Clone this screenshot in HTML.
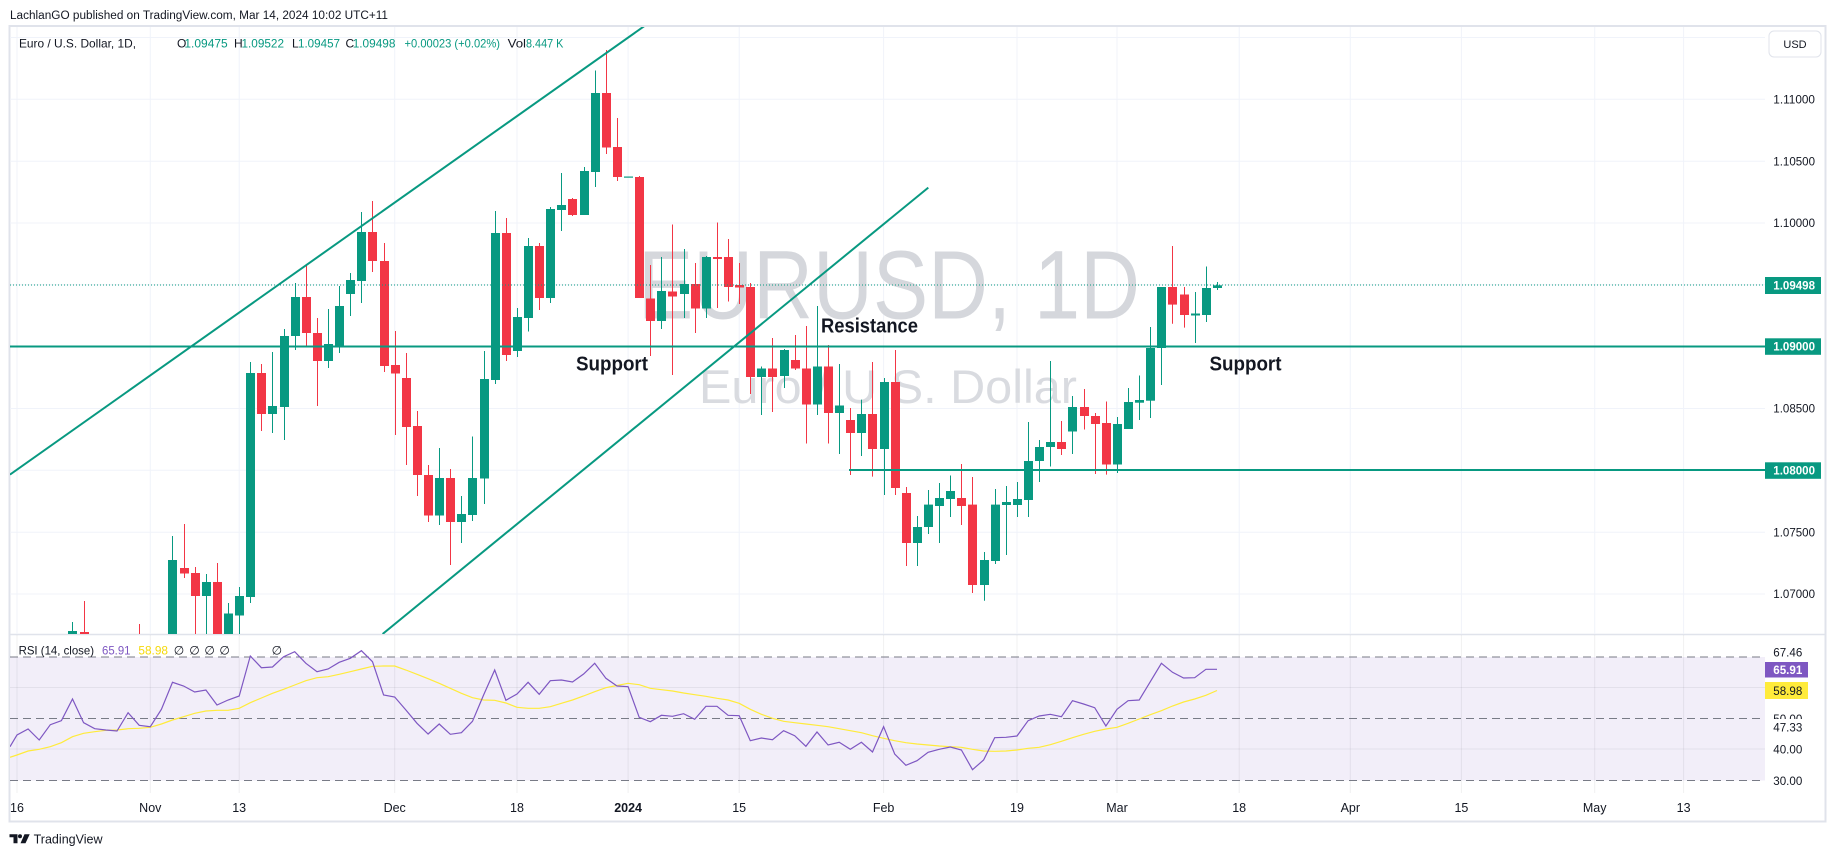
<!DOCTYPE html>
<html><head><meta charset="utf-8"><style>
html,body{margin:0;padding:0;background:#fff;}
svg{display:block;font-family:"Liberation Sans",sans-serif;}
</style></head><body>
<svg width="1835" height="857" viewBox="0 0 1835 857" xmlns="http://www.w3.org/2000/svg">
<defs>
<clipPath id="mp"><rect x="10" y="27" width="1755" height="607"/></clipPath>
<clipPath id="rp"><rect x="10" y="635" width="1755" height="158"/></clipPath>
</defs>
<rect width="1835" height="857" fill="#fff"/>
<!-- header -->
<text x="10" y="19" font-size="11.5" fill="#131722" textLength="378" lengthAdjust="spacingAndGlyphs">LachlanGO published on TradingView.com, Mar 14, 2024 10:02 UTC+11</text>

<!-- frame -->
<rect x="9.5" y="26" width="1816" height="795.5" fill="none" stroke="#e0e3eb" stroke-width="2"/>
<line x1="10" y1="634.5" x2="1825" y2="634.5" stroke="#e0e3eb" stroke-width="1.5"/>

<!-- main pane -->
<g clip-path="url(#mp)">
<g stroke="#f0f3fa" stroke-width="1">
<path d="M10 37.5H1765M10 99.3H1765M10 161.2H1765M10 223H1765M10 284.8H1765M10 346.7H1765M10 408.5H1765M10 470.3H1765M10 532.2H1765M10 594H1765"/>
<path d="M17 27V634M150.3 27V634M239.2 27V634M394.7 27V634M517 27V634M628.1 27V634M739.2 27V634M883.6 27V634M1017 27V634M1117 27V634M1239.2 27V634M1350.3 27V634M1461.4 27V634M1594.7 27V634M1683.6 27V634"/>
</g>
<text x="638" y="318.7" font-size="97" fill="#d5d7dc" textLength="502" lengthAdjust="spacingAndGlyphs">EURUSD, 1D</text>
<text x="699" y="403" font-size="47" fill="#d9dbe0" textLength="378" lengthAdjust="spacingAndGlyphs">Euro / U.S. Dollar</text>

<!-- green candles -->
<path fill="none" stroke="#089981" stroke-width="1" d="M72.5 622V640M172.5 536V720M206.5 574V650M228.5 603V650M239.5 587V640M250.5 362V603M272.5 352V433M284.5 329V440M295.5 283V350M328.5 309V368M339.5 286V353M350.5 273V316M361.5 212V303M439.5 448V525M461.5 496V543M472.5 436.5V521M484.5 351V504M495.5 211V384M517.5 308V357M528.5 238V331.5M550.5 207V303M561.5 173V231M584.5 167V215M595.5 70.5V187M661.5 257V329M684.5 249V318M706.5 256V318M761.5 366.5V415M784.5 349V388M817.5 306V415M839.5 364V454M861.5 399.6V456M884.5 378V495M917.5 516V566M928.5 490V534M939.5 483V543M950.5 475.5V517M984.5 552V600.7M995.5 489V564M1006.5 486V555M1017.5 482V517M1028.5 422V517M1039.5 440V482M1050.5 361V466.5M1072.5 396V454M1117.5 417V473M1128.5 388V429M1139.5 375.5V420M1150.5 327V418M1161.5 287V385M1195.5 292V343M1206.5 266.5V322M1217.5 282V290"/>
<g fill="#089981">
<rect x="68" y="631" width="9" height="3"/>
<rect x="168" y="560" width="9" height="140"/>
<rect x="202" y="582" width="9" height="14"/>
<rect x="224" y="613.5" width="9" height="26.5"/>
<rect x="235" y="596" width="9" height="19.5"/>
<rect x="246" y="373" width="9" height="224"/>
<rect x="268" y="406" width="9" height="8"/>
<rect x="280" y="336" width="9" height="71"/>
<rect x="291" y="297" width="9" height="39"/>
<rect x="324" y="344" width="9" height="17"/>
<rect x="335" y="306" width="9" height="40"/>
<rect x="346" y="280" width="9" height="14"/>
<rect x="357" y="232" width="9" height="49"/>
<rect x="435" y="478" width="9" height="37.5"/>
<rect x="457" y="514" width="9" height="8"/>
<rect x="468" y="478" width="9" height="37"/>
<rect x="480" y="379" width="9" height="99.5"/>
<rect x="491" y="233" width="9" height="147"/>
<rect x="513" y="317" width="9" height="34"/>
<rect x="524" y="246" width="9" height="72"/>
<rect x="546" y="209" width="9" height="89"/>
<rect x="557" y="205" width="9" height="5"/>
<rect x="580" y="171" width="9" height="44"/>
<rect x="591" y="93" width="9" height="79"/>
<rect x="624" y="176.5" width="9" height="1.2"/>
<rect x="657" y="291" width="9" height="30"/>
<rect x="680" y="284" width="9" height="10"/>
<rect x="702" y="257" width="9" height="51.5"/>
<rect x="757" y="368.5" width="9" height="8.5"/>
<rect x="780" y="350" width="9" height="26"/>
<rect x="813" y="366.5" width="9" height="38"/>
<rect x="835" y="405.5" width="9" height="7.5"/>
<rect x="857" y="414" width="9" height="19"/>
<rect x="880" y="382" width="9" height="67"/>
<rect x="913" y="527" width="9" height="16"/>
<rect x="924" y="504.6" width="9" height="22.4"/>
<rect x="935" y="498" width="9" height="8"/>
<rect x="946" y="491" width="9" height="8"/>
<rect x="980" y="560" width="9" height="25"/>
<rect x="991" y="504.6" width="9" height="56.4"/>
<rect x="1002" y="502" width="9" height="3"/>
<rect x="1013" y="499" width="9" height="6"/>
<rect x="1024" y="461" width="9" height="39"/>
<rect x="1035" y="447" width="9" height="14"/>
<rect x="1046" y="442" width="9" height="5"/>
<rect x="1068" y="407" width="9" height="24.5"/>
<rect x="1113" y="424" width="9" height="40.5"/>
<rect x="1124" y="402" width="9" height="27"/>
<rect x="1135" y="400" width="9" height="2.7"/>
<rect x="1146" y="348" width="9" height="52.7"/>
<rect x="1157" y="287" width="9" height="61"/>
<rect x="1191" y="313.5" width="9" height="2"/>
<rect x="1202" y="288" width="9" height="27"/>
<rect x="1213" y="285.3" width="9" height="2.7"/>
</g>
<!-- red candles -->
<path fill="none" stroke="#f23645" stroke-width="1" d="M84.5 601V650M139.5 624V660M184.5 524V578M195.5 567V650M217.5 563V670M261.5 364V431M306.5 265V347M317.5 318V406M372.5 201V272M384.5 243V372M395.5 331V435M406.5 353V465M417.5 411V496M428.5 465V522M450.5 469V565M506.5 218V361M539.5 243V310M572.5 198V216M606.5 50V154M617.5 118V181M639.5 176V298M650.5 265V356M672.5 224.5V375M695.5 263V333M717.5 222.5V308M728.5 239V301.5M739.5 263V304M750.5 283V394M772.5 338V412M795.5 335V370M806.5 326V443.5M828.5 345V443.5M850.5 408V475M872.5 362V476.6M895.5 350V495M906.5 487V566M961.5 464V525M972.5 477V593M1061.5 421V455M1084.5 389V429.5M1095.5 413V474M1106.5 401.5V474.6M1172.5 246V323.7M1184.5 287V327.6"/>
<g fill="#f23645">
<rect x="80" y="632" width="9" height="13"/>
<rect x="180" y="568" width="9" height="5.5"/>
<rect x="191" y="573" width="9" height="23"/>
<rect x="213" y="582" width="9" height="78"/>
<rect x="257" y="373" width="9" height="41"/>
<rect x="302" y="297" width="9" height="36"/>
<rect x="313" y="333" width="9" height="28"/>
<rect x="368" y="232" width="9" height="29"/>
<rect x="380" y="261" width="9" height="105"/>
<rect x="391" y="365" width="9" height="8.5"/>
<rect x="402" y="378" width="9" height="49"/>
<rect x="413" y="426" width="9" height="49"/>
<rect x="424" y="475" width="9" height="40.5"/>
<rect x="446" y="478" width="9" height="44"/>
<rect x="502" y="233" width="9" height="122"/>
<rect x="535" y="246" width="9" height="52"/>
<rect x="568" y="199" width="9" height="16"/>
<rect x="602" y="93" width="9" height="54.5"/>
<rect x="613" y="147" width="9" height="30"/>
<rect x="635" y="177" width="9" height="121"/>
<rect x="646" y="298.5" width="9" height="22.5"/>
<rect x="668" y="291.5" width="9" height="5"/>
<rect x="691" y="284" width="9" height="24.5"/>
<rect x="713" y="257" width="9" height="2"/>
<rect x="724" y="257" width="9" height="30"/>
<rect x="735" y="285" width="9" height="2.5"/>
<rect x="746" y="287" width="9" height="90"/>
<rect x="768" y="368.5" width="9" height="8.5"/>
<rect x="791" y="360" width="9" height="8.5"/>
<rect x="802" y="368.5" width="9" height="36"/>
<rect x="824" y="366.5" width="9" height="46.5"/>
<rect x="846" y="420" width="9" height="13"/>
<rect x="868" y="414" width="9" height="35"/>
<rect x="891" y="382" width="9" height="106"/>
<rect x="902" y="493" width="9" height="50"/>
<rect x="957" y="498" width="9" height="8"/>
<rect x="968" y="504.6" width="9" height="80.4"/>
<rect x="1057" y="442" width="9" height="7"/>
<rect x="1080" y="407" width="9" height="9"/>
<rect x="1091" y="416" width="9" height="8"/>
<rect x="1102" y="423" width="9" height="41.5"/>
<rect x="1168" y="287" width="9" height="17.6"/>
<rect x="1180" y="294.5" width="9" height="20.5"/>
</g>

<!-- drawings -->
<line x1="10" y1="285" x2="1765" y2="285" stroke="#089981" stroke-width="1" stroke-dasharray="1 2"/>
<g stroke="#089981" stroke-width="2" fill="none">
<line x1="10" y1="474.6" x2="660" y2="15"/>
<line x1="382.6" y1="634" x2="928.3" y2="187.6"/>
<line x1="10" y1="346.5" x2="1765" y2="346.5"/>
<line x1="849" y1="470" x2="1765" y2="470"/>
</g>
<g font-weight="bold" font-size="20" fill="#131722">
<text x="576" y="370.4" textLength="72" lengthAdjust="spacingAndGlyphs">Support</text>
<text x="821" y="332.7" textLength="97" lengthAdjust="spacingAndGlyphs">Resistance</text>
<text x="1209.5" y="370.4" textLength="72" lengthAdjust="spacingAndGlyphs">Support</text>
</g>
</g>

<!-- legend -->
<g font-size="12">
<text x="19" y="47.5" fill="#131722" textLength="117" lengthAdjust="spacingAndGlyphs">Euro / U.S. Dollar, 1D,</text>
<text x="177" y="47.5" fill="#131722">O</text>
<text x="184.4" y="47.5" fill="#089981" textLength="43.3" lengthAdjust="spacingAndGlyphs">1.09475</text>
<text x="234" y="47.5" fill="#131722">H</text>
<text x="241.5" y="47.5" fill="#089981" textLength="42.5" lengthAdjust="spacingAndGlyphs">1.09522</text>
<text x="292" y="47.5" fill="#131722">L</text>
<text x="298" y="47.5" fill="#089981" textLength="42" lengthAdjust="spacingAndGlyphs">1.09457</text>
<text x="345.5" y="47.5" fill="#131722">C</text>
<text x="352.7" y="47.5" fill="#089981" textLength="42.8" lengthAdjust="spacingAndGlyphs">1.09498</text>
<text x="404.5" y="47.5" fill="#089981" textLength="95.5" lengthAdjust="spacingAndGlyphs">+0.00023 (+0.02%)</text>
<text x="507.6" y="47.5" fill="#131722" textLength="18.4" lengthAdjust="spacingAndGlyphs">Vol</text>
<text x="526" y="47.5" fill="#089981" textLength="37.4" lengthAdjust="spacingAndGlyphs">8.447 K</text>
</g>

<!-- price axis -->
<rect x="1769" y="31" width="52" height="26" rx="5" fill="#fff" stroke="#e0e3eb" stroke-width="1"/>
<text x="1795" y="48" font-size="11" fill="#131722" text-anchor="middle">USD</text>
<g font-size="12" fill="#131722">
<text x="1773.3" y="103.5" textLength="41.7" lengthAdjust="spacingAndGlyphs">1.11000</text>
<text x="1773.3" y="165.4" textLength="41.7" lengthAdjust="spacingAndGlyphs">1.10500</text>
<text x="1773.3" y="227.2" textLength="41.7" lengthAdjust="spacingAndGlyphs">1.10000</text>
<text x="1773.3" y="412.7" textLength="41.7" lengthAdjust="spacingAndGlyphs">1.08500</text>
<text x="1773.3" y="536.4" textLength="41.7" lengthAdjust="spacingAndGlyphs">1.07500</text>
<text x="1773.3" y="598.2" textLength="41.7" lengthAdjust="spacingAndGlyphs">1.07000</text>
</g>
<rect x="1765" y="277" width="56" height="17" fill="#089981"/>
<rect x="1765" y="338.3" width="56" height="16.5" fill="#089981"/>
<rect x="1765" y="462.3" width="56" height="16.5" fill="#089981"/>
<g font-size="12" font-weight="bold" fill="#fff">
<text x="1773.3" y="289.7" textLength="41.7" lengthAdjust="spacingAndGlyphs">1.09498</text>
<text x="1773.3" y="350.7" textLength="41.7" lengthAdjust="spacingAndGlyphs">1.09000</text>
<text x="1773.3" y="474.7" textLength="41.7" lengthAdjust="spacingAndGlyphs">1.08000</text>
</g>

<!-- RSI pane -->
<g clip-path="url(#rp)">
<rect x="10" y="657" width="1755" height="123.5" fill="#f2eef9"/>
<path d="M17 635V793M150.3 635V793M239.2 635V793M394.7 635V793M517 635V793M628.1 635V793M739.2 635V793M883.6 635V793M1017 635V793M1117 635V793M1239.2 635V793M1350.3 635V793M1461.4 635V793M1594.7 635V793M1683.6 635V793" stroke="rgba(42,46,57,0.07)" stroke-width="1"/>
<path d="M10 687.5H1765M10 749H1765" stroke="rgba(42,46,57,0.07)" stroke-width="1"/>
<g stroke="#787b86" stroke-width="1" stroke-dasharray="8 5">
<line x1="10" y1="657" x2="1765" y2="657"/>
<line x1="10" y1="718.5" x2="1765" y2="718.5"/>
<line x1="10" y1="780.5" x2="1765" y2="780.5"/>
</g>
<polyline fill="none" stroke="#ffeb3b" stroke-width="1.2" points="10,757.3 17,755 28.1,751 39.2,749.3 50.3,746.7 61.4,742.7 72.5,736.7 83.6,733.3 94.7,731.7 105.9,730.3 117,730 128.1,728.7 139.2,728.3 150.3,727.3 161.4,724 172.5,720 183.6,716.7 194.7,713.3 205.9,711 217,710.3 228.1,710.3 239.2,708.3 250.3,702.7 261.4,698 272.5,693.3 283.6,689.3 294.7,685 305.9,680.7 317,677.7 328.1,676.7 339.2,674.3 350.3,671.7 361.4,669 372.5,666.3 383.6,666 394.7,666 405.9,670 417,674.3 428.1,678.7 439.2,683.3 450.3,688.3 461.4,693.3 472.5,697.7 483.6,700 494.7,700.3 505.9,703 517,707.3 528.1,708.3 539.2,708.3 550.3,706.7 561.4,703.3 572.5,700 583.6,696 594.7,691.7 605.9,687.7 617,685.5 628.1,683.3 639.2,684.7 650.3,688.3 661.4,689.7 672.5,691 683.6,693 694.7,694.7 705.9,696.3 717,698.3 728.1,700 739.2,703.3 750.3,709.3 761.4,714.3 772.5,718.3 783.6,721.3 794.7,722.7 805.9,724 817,725.3 828.1,726.7 839.2,728.7 850.3,730.7 861.4,732.7 872.5,735.7 883.6,738.3 894.7,740.7 905.9,742.7 917,744 928.1,745 939.2,746 950.3,746.7 961.4,747.3 972.5,749.3 983.6,751 994.7,751.3 1005.9,751 1017,750 1028.1,748.3 1039.2,747.3 1050.3,744.7 1061.4,741.3 1072.5,737.7 1083.6,734.3 1094.7,731.3 1105.9,729 1117,727.3 1128.1,723.3 1139.2,719 1150.3,714.7 1161.4,710.7 1172.5,706 1183.6,702 1194.7,699 1205.9,695.3 1217,690.5"/>
<polyline fill="none" stroke="#7e57c2" stroke-width="1.2" points="10,746.7 17,735 28.1,729 39.2,740 50.3,724.7 61.4,720.7 72.5,699 83.6,722.7 94.7,728.7 105.9,730 117,731 128.1,712.7 139.2,725.3 150.3,726.7 161.4,709.3 172.5,682.3 183.6,686 194.7,692 205.9,690 217,705 228.1,700 239.2,696 250.3,656 261.4,667.7 272.5,667 283.6,656.7 294.7,651.7 305.9,663.3 317,671.7 328.1,669 339.2,662.3 350.3,658.3 361.4,650.7 372.5,661.7 383.6,695 394.7,697 405.9,710 417,723.3 428.1,734 439.2,724 450.3,734.3 461.4,732.7 472.5,721.3 483.6,695 494.7,670 505.9,700.3 517,694 528.1,682.3 539.2,694.3 550.3,680.7 561.4,680 572.5,682 583.6,674 594.7,663.3 605.9,678.3 617,686 628.1,686.7 639.2,717.3 650.3,721.7 661.4,715.3 672.5,716.3 683.6,713.7 694.7,719.3 705.9,706.3 717,706.3 728.1,715.3 739.2,715.7 750.3,740.7 761.4,738 772.5,739.7 783.6,730.7 794.7,735.7 805.9,746.3 817,732 828.1,745 839.2,742.3 850.3,749.3 861.4,742.3 872.5,752 883.6,726.7 894.7,754 905.9,765.3 917,760.7 928.1,752.3 939.2,749.3 950.3,747 961.4,750 972.5,769.7 983.6,760 994.7,737.7 1005.9,737.3 1017,736 1028.1,720.7 1039.2,716 1050.3,714.3 1061.4,716.7 1072.5,700.7 1083.6,704 1094.7,707.7 1105.9,726 1117,709.3 1128.1,700.7 1139.2,700 1150.3,681.7 1161.4,663.3 1172.5,672.3 1183.6,678 1194.7,677.7 1205.9,669.3 1217,669.3"/>
</g>
<!-- RSI legend -->
<g font-size="12">
<text x="18.6" y="654.3" fill="#131722" textLength="75.4" lengthAdjust="spacingAndGlyphs">RSI (14, close)</text>
<text x="102" y="654.3" fill="#7e57c2" textLength="28.5" lengthAdjust="spacingAndGlyphs">65.91</text>
<text x="138.4" y="654.3" fill="#f5d90a" textLength="29.6" lengthAdjust="spacingAndGlyphs">58.98</text>
<text x="179" y="654.3" fill="#131722" text-anchor="middle">∅</text>
<text x="194.5" y="654.3" fill="#131722" text-anchor="middle">∅</text>
<text x="209.6" y="654.3" fill="#131722" text-anchor="middle">∅</text>
<text x="224.6" y="654.3" fill="#131722" text-anchor="middle">∅</text>
<text x="276.8" y="654.3" fill="#131722" text-anchor="middle">∅</text>
</g>
<!-- RSI axis -->
<g font-size="12" fill="#131722">
<text x="1773.3" y="656.3" textLength="29" lengthAdjust="spacingAndGlyphs">67.46</text>
<text x="1773.3" y="722.8" textLength="29" lengthAdjust="spacingAndGlyphs">50.00</text>
</g>
<rect x="1766" y="719" width="58" height="16" fill="#fff"/>
<g font-size="12" fill="#131722">
<text x="1773.3" y="731.3" textLength="29" lengthAdjust="spacingAndGlyphs">47.33</text>
<text x="1773.3" y="753.3" textLength="29" lengthAdjust="spacingAndGlyphs">40.00</text>
<text x="1773.3" y="785" textLength="29" lengthAdjust="spacingAndGlyphs">30.00</text>
</g>
<rect x="1765" y="662" width="43" height="15.5" fill="#7e57c2"/>
<text x="1773.3" y="674" font-size="12" font-weight="bold" fill="#fff" textLength="29" lengthAdjust="spacingAndGlyphs">65.91</text>
<rect x="1765" y="682" width="43" height="17" fill="#ffeb3b"/>
<text x="1773.3" y="694.8" font-size="12" fill="#131722" textLength="29" lengthAdjust="spacingAndGlyphs">58.98</text>

<!-- time axis -->
<g font-size="12.5" fill="#131722" text-anchor="middle">
<text x="17" y="812">16</text>
<text x="150.3" y="812">Nov</text>
<text x="239.2" y="812">13</text>
<text x="394.7" y="812">Dec</text>
<text x="517" y="812">18</text>
<text x="628.1" y="812" font-weight="bold">2024</text>
<text x="739.2" y="812">15</text>
<text x="883.6" y="812">Feb</text>
<text x="1017" y="812">19</text>
<text x="1117" y="812">Mar</text>
<text x="1239.2" y="812">18</text>
<text x="1350.3" y="812">Apr</text>
<text x="1461.4" y="812">15</text>
<text x="1594.7" y="812">May</text>
<text x="1683.6" y="812">13</text>
</g>

<!-- footer logo -->
<g fill="#131722">
<path d="M9.5 834.3H17.5V843.3H13.5V837.3H9.5Z"/>
<circle cx="20" cy="836.3" r="2"/>
<path d="M24.5 834.3H29.7L25.5 843.3H20.5Z"/>
</g>
<text x="33.6" y="843.5" font-size="13" fill="#131722" textLength="69" lengthAdjust="spacingAndGlyphs">TradingView</text>
</svg>
</body></html>
